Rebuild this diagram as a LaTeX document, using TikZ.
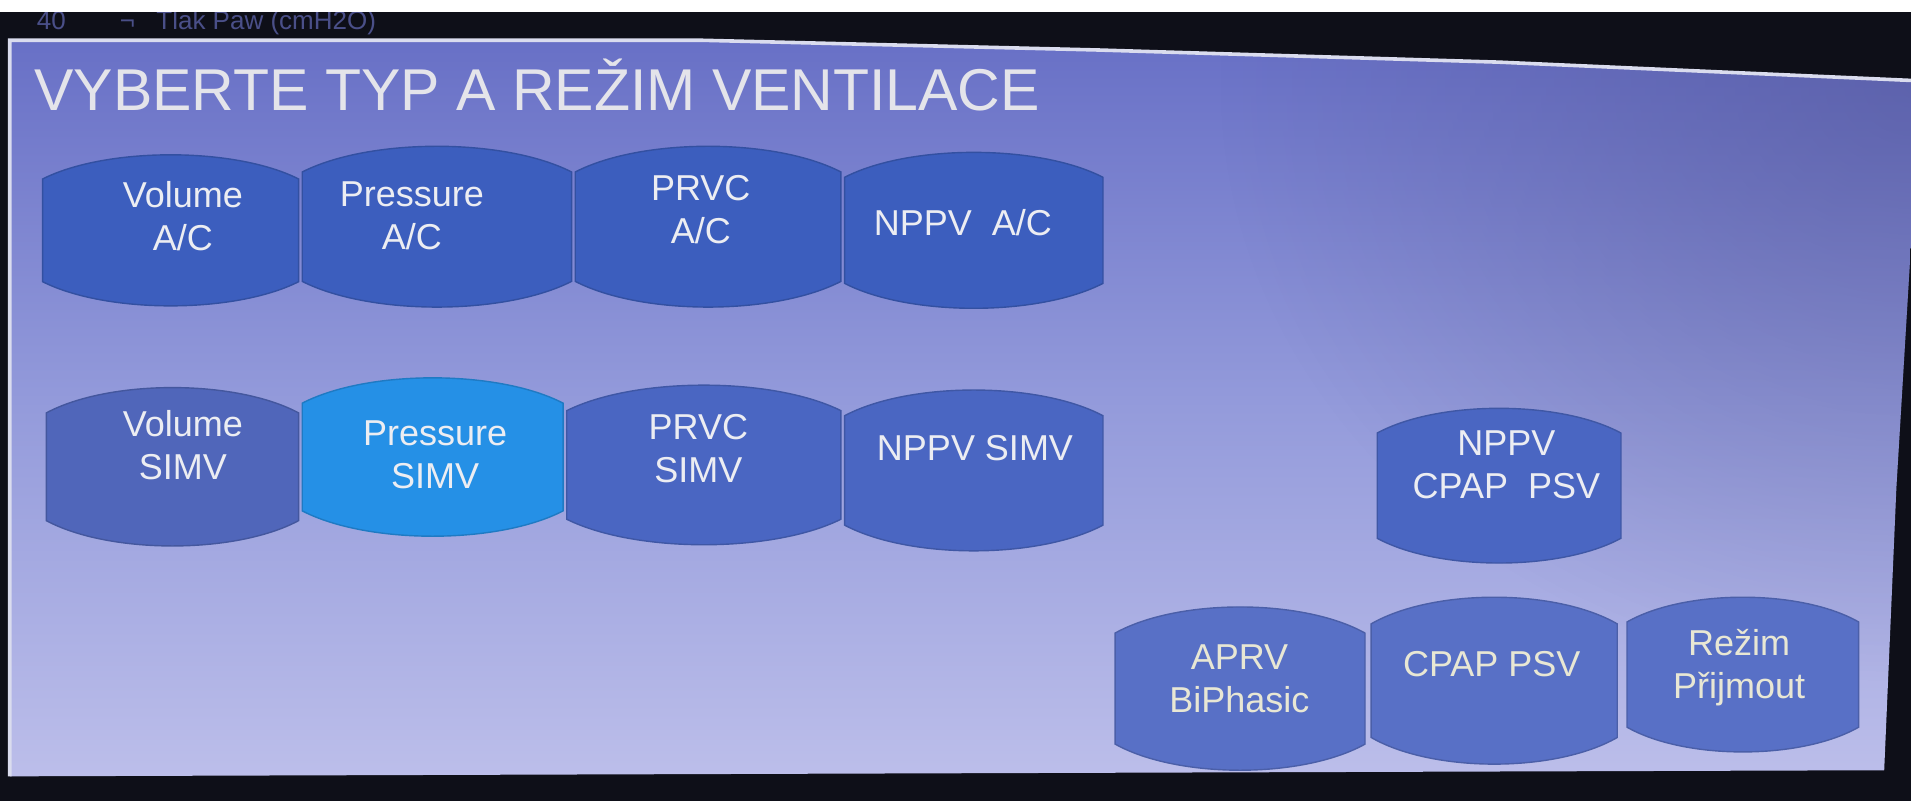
\documentclass[tikz,border=0pt]{standalone}
\usepackage{fontspec}
\setmainfont{Liberation Sans}
\usetikzlibrary{fadings}
\tikzfading[name=fadeNE, inner color=transparent!0, outer color=transparent!100]
\definecolor{outerdark}{HTML}{0E0F18}
\definecolor{toptext}{HTML}{4A4F88}
\definecolor{bgtop}{HTML}{6870C6}
\definecolor{bgmid}{HTML}{949BDB}
\definecolor{bgbot}{HTML}{BCBEEA}
\definecolor{rimline}{HTML}{DADCEE}
\definecolor{shadeR}{HTML}{4A4C8C}
\definecolor{btnA}{HTML}{3C5EBE}
\definecolor{btnB}{HTML}{4A66C2}
\definecolor{btnC}{HTML}{5066BA}
\definecolor{btnD}{HTML}{5870C6}
\definecolor{btnHi}{HTML}{2590E6}
\definecolor{txtW}{HTML}{ECEDF2}
\definecolor{txtY}{HTML}{E8E7D4}
\definecolor{titleW}{HTML}{E4E4EA}
\newcommand{\vbtn}[5]{% cx cy w h colour
  \fill[#5, draw=#5!85!black, line width=0.7pt]
    ({#1-#3/2},{#2-#4/2+0.16*#4})
    .. controls ({#1-#3/4},{#2-#4/2-0.053*#4}) and ({#1+#3/4},{#2-#4/2-0.053*#4}) ..
    ({#1+#3/2},{#2-#4/2+0.16*#4})
    -- ({#1+#3/2},{#2+#4/2-0.16*#4})
    .. controls ({#1+#3/4},{#2+#4/2+0.053*#4}) and ({#1-#3/4},{#2+#4/2+0.053*#4}) ..
    ({#1-#3/2},{#2+#4/2-0.16*#4}) -- cycle;}
\tikzset{
  lbl/.style={text=txtW, align=center, font=\fontsize{18}{21.5}\selectfont, inner sep=0pt},
  lbly/.style={lbl, text=txtY},
  toplbl/.style={text=toptext, font=\fontsize{13}{15}\selectfont, inner sep=0pt, anchor=base west},
  ttl/.style={text=titleW, font=\fontsize{29.5}{32}\selectfont, inner sep=0pt, anchor=base west}
}
\begin{document}
\begin{tikzpicture}[x=0.6094pt,y=-0.6094pt]
\useasboundingbox (0,0) rectangle (1568,657);
\fill[outerdark] (0,0) rectangle (1568,657);
\fill[white] (0,0) rectangle (1568,10);
% partly hidden text above the panel
\begin{scope}
  \clip (0,10) rectangle (1568,30);
  \node[toplbl] (t40) at (30,24) {40};
  \node[toplbl] (tsym) at (98,24) {¬};
  \node[toplbl] (tlak) at (128,24) {Tlak Paw (cmH2O)};
\end{scope}
% panel
\coordinate (p1) at (8,33);
\coordinate (p2) at (574,33);
\coordinate (p3) at (900,41);
\coordinate (p4) at (1230,51);
\coordinate (p5) at (1568,66);
\coordinate (p6) at (1568,200);
\coordinate (p7) at (1556,400);
\coordinate (p8) at (1546,632);
\coordinate (p9) at (8,637);
\shade[top color=bgtop, bottom color=bgbot, middle color=bgmid]
  (p1) -- (p2) -- (p3) -- (p4) -- (p5) -- (p6) -- (p7) -- (p8) -- (p9) -- cycle;
\begin{scope}
  \clip (p1) -- (p2) -- (p3) -- (p4) -- (p5) -- (p6) -- (p7) -- (p8) -- (p9) -- cycle;
  \fill[shadeR, path fading=fadeNE, fill opacity=0.45] (1000,-420) rectangle (2140,560);
\end{scope}
\draw[rimline, line width=1.8pt] (p9) -- (p1) -- (p2) -- (p3) -- (p4) -- (p5);
% title
\node[ttl] (title) at (28,91) {VYBERTE TYP A REŽIM VENTILACE};
% row 1
\vbtn{140}{189}{210}{124}{btnA}
\vbtn{358.5}{186}{221}{132}{btnA}
\vbtn{581}{186}{218}{132}{btnA}
\vbtn{799}{189}{212}{128}{btnA}
\node[lbl] (vac) at (150,177) {Volume\\A/C};
\node[lbl] (pac) at (338,177) {Pressure\\A/C};
\node[lbl] (rac) at (575,172) {PRVC\\A/C};
\node[lbl] (nac) at (790,183) {NPPV\ \ A/C};
% row 2
\vbtn{141.5}{383}{207}{130}{btnC}
\vbtn{355}{375}{214}{130}{btnHi}
\vbtn{577.5}{381.5}{225}{131}{btnB}
\vbtn{799}{386}{212}{132}{btnB}
\node[lbl] (vsimv) at (150,365) {Volume\\SIMV};
\node[lbl] (psimv) at (357,373) {Pressure\\SIMV};
\node[lbl] (rsimv) at (573,368) {PRVC\\SIMV};
\node[lbl] (nsimv) at (800,368) {NPPV SIMV};
% NPPV CPAP PSV
\vbtn{1230}{398.5}{200}{127}{btnB}
\node[lbl] (ncpap) at (1236,381) {NPPV\\CPAP\ \ PSV};
% bottom row
\vbtn{1017.5}{565}{205}{134}{btnD}
\vbtn{1226}{558.5}{202}{137}{btnD}
\vbtn{1430}{553.5}{190}{127}{btnD}
\node[lbly] (aprv) at (1017,557) {APRV\\BiPhasic};
\node[lbly] (cpap) at (1224,545) {CPAP PSV};
\node[lbly] (rezim) at (1427,548) {Režim\\Přijmout};
\end{tikzpicture}
\end{document}
